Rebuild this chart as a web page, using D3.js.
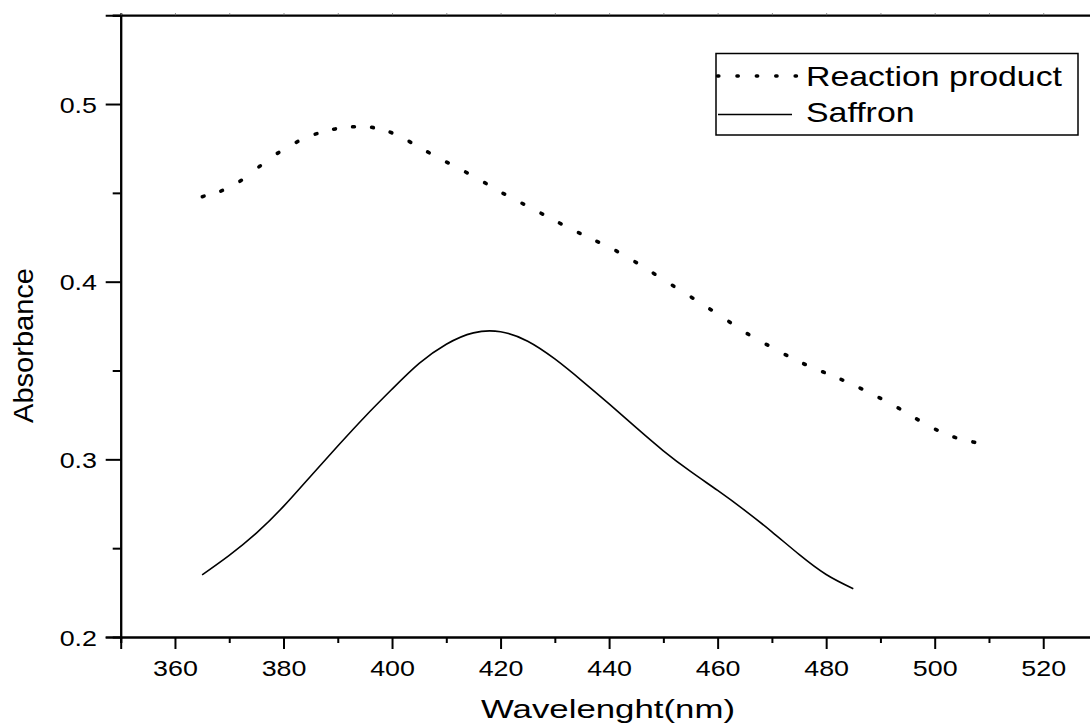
<!DOCTYPE html>
<html>
<head>
<meta charset="utf-8">
<script src="https://cdn.jsdelivr.net/npm/d3@7/dist/d3.min.js"></script>
<style>
  html, body { margin: 0; padding: 0; background: #fff; overflow: hidden; }
  svg { display: block; }
  text { font-family: "Liberation Sans", Arial, Helvetica, sans-serif; fill: #000; }
</style>
</head>
<body>
<svg id="chart" width="1090" height="724"></svg>
<script>
// ---------- data ----------
const xMajorTicks = [360, 380, 400, 420, 440, 460, 480, 500, 520];
const xMinorTicks = [350, 370, 390, 410, 430, 450, 470, 490, 510, 530];
const yMajorTicks = [0.2, 0.3, 0.4, 0.5];
const yMinorTicks = [0.25, 0.35, 0.45, 0.55];

// Reaction product (dotted) – one dot per sample
const reactionWl = [365.2, 368.6, 372.1, 375.6, 379.0, 382.5, 386.0, 389.4, 392.9, 396.4,
  399.8, 403.3, 406.7, 410.2, 413.7, 417.2, 420.6, 424.1, 427.6, 431.0,
  434.5, 437.9, 441.4, 444.9, 448.3, 451.8, 455.3, 458.7, 462.2, 465.6,
  469.1, 472.6, 476.0, 479.5, 482.9, 486.4, 489.9, 493.4, 496.8, 500.3,
  503.7, 507.2];
const reactionAbs = [0.4480, 0.4512, 0.4568, 0.4649, 0.4725, 0.4787, 0.4832, 0.4859, 0.4872, 0.4868,
  0.4840, 0.4787, 0.4728, 0.4671, 0.4615, 0.4555, 0.4495, 0.4439, 0.4383, 0.4328,
  0.4274, 0.4225, 0.4172, 0.4110, 0.4045, 0.3977, 0.3910, 0.3844, 0.3773, 0.3705,
  0.3645, 0.3587, 0.3536, 0.3491, 0.3448, 0.3399, 0.3345, 0.3287, 0.3225, 0.3167,
  0.3124, 0.3097];

// Saffron (solid)
const saffronWl = [365, 370, 375, 380, 385, 390, 395, 400, 405, 410, 415, 420, 425,
  430, 435, 440, 445, 450, 455, 460, 465, 470, 475, 480, 485];
const saffronAbs = [0.2350, 0.2460, 0.2585, 0.2735, 0.2905, 0.3075, 0.3240, 0.3395, 0.3540, 0.3648,
  0.3712, 0.3718, 0.3665, 0.3565, 0.3442, 0.3312, 0.3178, 0.3048, 0.2932, 0.2825,
  0.2713, 0.2592, 0.2465, 0.2352, 0.2272];

const seriesNames = ["Reaction product", "Saffron"];
const xTitle = "Wavelenght(nm)";
const yTitle = "Absorbance";

// ---------- layout ----------
const svg = d3.select("#chart");
const x = d3.scaleLinear().domain([350, 530]).range([120.7, 1097.5]);
const y = d3.scaleLinear().domain([0.2, 0.55]).range([637, 15.2]);
const SX = 1.22; // horizontal stretch of the text

// ---------- axes ----------
function styleAxis(g) {
  g.select(".domain").attr("stroke", "#000").attr("stroke-width", 2);
  g.selectAll(".tick line").attr("stroke", "#000").attr("stroke-width", 2);
}

// bottom minor
svg.append("g").attr("transform", `translate(0,${y(0.2)})`)
  .call(d3.axisBottom(x).tickValues(xMinorTicks).tickSize(6).tickFormat(""))
  .call(styleAxis);
// bottom major
const gxb = svg.append("g").attr("transform", `translate(0,${y(0.2)})`)
  .call(d3.axisBottom(x).tickValues(xMajorTicks).tickSize(12).tickFormat(d3.format("d")))
  .call(styleAxis);
gxb.selectAll(".tick text")
  .attr("x", 0).attr("y", 0).attr("dy", 0)
  .attr("font-size", 22)
  .attr("font-family", "Liberation Sans, Arial, sans-serif")
  .attr("text-anchor", "middle")
  .attr("transform", `translate(0,39) scale(${SX},1)`);

// left minor
svg.append("g").attr("transform", `translate(${x(350)},0)`)
  .call(d3.axisLeft(y).tickValues(yMinorTicks).tickSize(8).tickFormat(""))
  .call(styleAxis);
// left major
const gyl = svg.append("g").attr("transform", `translate(${x(350)},0)`)
  .call(d3.axisLeft(y).tickValues(yMajorTicks).tickSize(15).tickFormat(d3.format(".1f")))
  .call(styleAxis);
gyl.selectAll(".tick text")
  .attr("x", 0).attr("y", 0).attr("dy", 0)
  .attr("font-size", 22)
  .attr("font-family", "Liberation Sans, Arial, sans-serif")
  .attr("text-anchor", "end")
  .attr("transform", `translate(${97 - x(350)},8) scale(${SX},1)`);

// top axis line with tiny ticks
const gtop = svg.append("g").attr("transform", `translate(0,${y(0.55)})`)
  .call(d3.axisTop(x).tickValues(xMinorTicks.concat(xMajorTicks)).tickSize(2).tickFormat(""));
gtop.select(".domain").attr("stroke", "#000").attr("stroke-width", 2.2);
gtop.selectAll(".tick line").attr("stroke", "#777").attr("stroke-width", 1);

// ---------- axis titles ----------
svg.append("text")
  .attr("x", 481).attr("y", 718)
  .attr("font-size", 25)
  .attr("textLength", 254).attr("lengthAdjust", "spacingAndGlyphs")
  .text(xTitle);

svg.append("text")
  .attr("transform", "translate(33,345.5) rotate(-90)")
  .attr("text-anchor", "middle")
  .attr("font-size", 28)
  .attr("textLength", 155).attr("lengthAdjust", "spacingAndGlyphs")
  .text(yTitle);

// ---------- series ----------
const saffron = saffronWl.map((w, i) => [w, saffronAbs[i]]);
const line = d3.line().x(d => x(d[0])).y(d => y(d[1])).curve(d3.curveNatural);
svg.append("path").datum(saffron)
  .attr("d", line)
  .attr("fill", "none").attr("stroke", "#000").attr("stroke-width", 1.6);

const reaction = reactionWl.map((w, i) => [w, reactionAbs[i]]);
const pts = reaction.map(d => [x(d[0]), y(d[1])]);
svg.append("g").selectAll("line").data(pts).join("line")
  .each(function (p, i) {
    const a = pts[Math.max(0, i - 1)], b = pts[Math.min(pts.length - 1, i + 1)];
    const dx = b[0] - a[0], dy = b[1] - a[1], L = Math.hypot(dx, dy) || 1;
    const ux = dx / L * 0.9, uy = dy / L * 0.9;
    d3.select(this)
      .attr("x1", p[0] - ux).attr("y1", p[1] - uy)
      .attr("x2", p[0] + ux).attr("y2", p[1] + uy);
  })
  .attr("stroke", "#000").attr("stroke-width", 3.6).attr("stroke-linecap", "round");

// ---------- legend ----------
const lg = svg.append("g");
lg.append("rect").attr("x", 716).attr("y", 53.5).attr("width", 362).attr("height", 81.5)
  .attr("fill", "#fff").attr("stroke", "#000").attr("stroke-width", 1.5);
lg.append("line").attr("x1", 717.5).attr("x2", 798).attr("y1", 76).attr("y2", 76)
  .attr("stroke", "#000").attr("stroke-width", 3.4).attr("stroke-linecap", "round")
  .attr("stroke-dasharray", "1.4 18.0");
lg.append("line").attr("x1", 718).attr("x2", 792).attr("y1", 114.5).attr("y2", 114.5)
  .attr("stroke", "#000").attr("stroke-width", 1.6);
lg.selectAll("text.leg").data(seriesNames).join("text")
  .attr("class", "leg")
  .attr("font-size", 28)
  .attr("transform", (d, i) => `translate(806,${i === 0 ? 86 : 122}) scale(1.21,1)`)
  .text(d => d);
</script>
</body>
</html>
